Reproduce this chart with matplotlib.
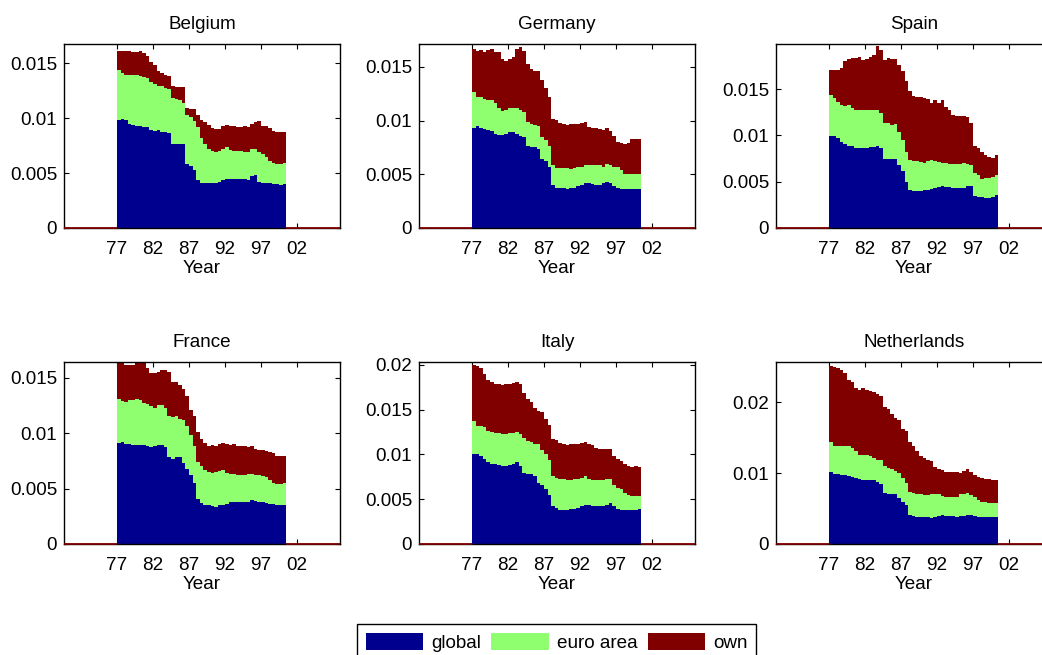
import numpy as np
import matplotlib
matplotlib.use("Agg")
import matplotlib.pyplot as plt
from matplotlib.patches import Patch
from matplotlib.ticker import FuncFormatter

plt.rcParams['font.family'] = ['Liberation Sans', 'DejaVu Sans']
plt.rcParams['font.size'] = 13.6

# half-year steps from 1977 to mid 2000, values in units of 1e-3
years = 1977 + 0.5 * np.arange(47)

countries = ["Belgium", "Germany", "Spain", "France", "Italy", "Netherlands"]

be_global = [9.8, 9.9, 9.8, 9.5, 9.4, 9.3, 9.3, 9.2, 9.2, 8.9,
             8.8, 8.9, 8.7, 8.7, 8.6, 7.6, 7.6, 7.6, 7.6, 5.8,
             5.6, 5.3, 4.4, 4.1, 4.1, 4.1, 4.1, 4.1, 4.2, 4.4,
             4.5, 4.5, 4.5, 4.5, 4.5, 4.45, 4.4, 4.75, 4.8, 4.2,
             4.1, 4.1, 4.1, 4.0, 4.0, 3.9, 4.0]
be_euro = [4.6, 4.2, 4.1, 4.4, 4.5, 4.6, 4.5, 4.5, 4.4, 4.4,
           4.3, 4.0, 4.2, 4.0, 4.0, 4.2, 4.1, 4.0, 3.8, 4.5,
           4.5, 4.4, 4.8, 4.1, 3.5, 3.1, 2.9, 2.8, 2.8, 2.8,
           2.9, 2.6, 2.5, 2.5, 2.5, 2.5, 2.5, 2.4, 2.4, 2.7,
           2.6, 2.4, 2.0, 1.9, 1.8, 1.9, 1.9]
be_own = [1.7, 2.0, 2.2, 2.2, 2.1, 2.1, 2.3, 2.2, 2.0, 1.8,
          1.7, 1.4, 1.2, 1.2, 1.2, 1.1, 1.1, 1.2, 1.4, 0.6,
          0.7, 1.1, 1.1, 1.6, 2.0, 2.2, 2.1, 2.1, 2.0, 2.1,
          2.0, 2.2, 2.3, 2.2, 2.2, 2.3, 2.3, 2.3, 2.4, 2.8,
          2.6, 2.8, 3.0, 2.9, 2.9, 2.9, 2.8]

de_global = [9.3, 9.5, 9.3, 9.2, 9.1, 9.0, 8.8, 8.7, 8.7, 8.8,
             8.9, 8.9, 8.8, 8.6, 8.5, 7.6, 7.5, 7.5, 7.4, 6.4,
             6.2, 5.7, 4.0, 3.7, 3.7, 3.7, 3.6, 3.7, 3.7, 3.9,
             4.0, 4.2, 4.2, 4.1, 4.0, 4.0, 4.2, 4.3, 4.2, 3.9,
             3.7, 3.6, 3.6, 3.6, 3.6, 3.6, 3.6]
de_euro = [3.4, 2.7, 2.9, 2.8, 2.8, 2.9, 2.8, 2.5, 2.2, 2.2,
           2.3, 2.3, 2.4, 2.4, 2.3, 2.3, 2.2, 2.1, 2.1, 2.1,
           2.0, 1.9, 1.9, 1.9, 1.9, 1.9, 2.0, 1.8, 1.9, 1.8,
           1.7, 1.7, 1.7, 1.8, 1.9, 1.9, 1.5, 1.7, 1.7, 1.8,
           2.0, 1.8, 1.4, 1.4, 1.4, 1.4, 1.4]
de_own = [4.0, 4.3, 4.4, 4.4, 4.7, 4.8, 4.8, 5.2, 4.8, 4.6,
          4.5, 4.7, 5.5, 5.9, 5.7, 5.4, 5.1, 5.0, 5.1, 5.3,
          4.8, 4.6, 4.3, 4.5, 4.2, 4.1, 4.0, 4.2, 4.1, 4.0,
          4.1, 4.0, 3.5, 3.4, 3.4, 3.3, 3.4, 3.3, 3.1, 2.9,
          2.3, 2.5, 2.8, 2.9, 3.3, 3.3, 3.3]

es_global = [9.9, 9.9, 9.7, 9.3, 9.1, 8.9, 8.8, 8.6, 8.6, 8.6,
             8.6, 8.7, 8.7, 8.8, 8.6, 7.5, 7.5, 7.4, 7.4, 6.8,
             6.1, 5.0, 4.1, 4.0, 4.0, 4.0, 4.1, 4.1, 4.2, 4.3,
             4.4, 4.5, 4.4, 4.4, 4.3, 4.3, 4.3, 4.3, 4.5, 4.5,
             3.4, 3.3, 3.3, 3.2, 3.2, 3.3, 3.6]
es_euro = [4.5, 4.1, 3.9, 4.0, 4.1, 4.4, 4.1, 4.1, 4.1, 4.1,
           4.1, 4.0, 4.0, 3.9, 3.8, 3.8, 3.8, 3.7, 3.8, 3.6,
           3.4, 3.2, 3.2, 3.2, 3.2, 3.1, 2.9, 3.1, 3.1, 2.9,
           2.7, 2.5, 2.6, 2.5, 2.6, 2.6, 2.6, 2.7, 2.4, 2.3,
           2.5, 2.4, 2.0, 2.2, 2.2, 2.2, 2.1]
es_own = [2.6, 3.0, 3.5, 4.0, 4.8, 4.9, 5.4, 5.6, 5.8, 5.4,
          5.5, 5.8, 6.0, 6.9, 6.8, 6.8, 7.0, 7.1, 7.0, 7.2,
          7.4, 7.7, 7.5, 7.0, 6.9, 7.0, 7.0, 6.7, 6.2, 6.6,
          6.4, 6.8, 6.1, 5.8, 5.3, 5.2, 5.2, 5.1, 5.1, 4.5,
          2.9, 2.9, 2.9, 2.5, 2.3, 2.1, 2.2]

fr_global = [9.1, 9.2, 9.0, 9.0, 8.9, 8.9, 8.9, 8.9, 8.8, 8.7,
             8.8, 8.9, 8.9, 8.7, 7.8, 7.7, 7.8, 7.8, 7.3, 6.8,
             6.2, 5.5, 4.1, 3.7, 3.5, 3.5, 3.4, 3.3, 3.5, 3.5,
             3.6, 3.8, 3.8, 3.8, 3.8, 3.8, 3.8, 4.0, 3.9, 3.8,
             3.8, 3.7, 3.6, 3.6, 3.5, 3.5, 3.5]
fr_euro = [4.0, 3.7, 3.8, 4.0, 4.1, 4.2, 4.1, 3.8, 3.8, 3.7,
           3.5, 3.6, 3.6, 3.6, 3.7, 3.7, 3.7, 3.5, 3.9, 3.8,
           3.6, 3.3, 3.3, 3.3, 3.2, 3.0, 3.0, 3.2, 3.1, 3.2,
           2.8, 2.5, 2.5, 2.4, 2.4, 2.4, 2.5, 2.3, 2.3, 2.4,
           2.3, 2.3, 2.2, 1.9, 1.9, 1.9, 2.0]
fr_own = [3.2, 3.4, 3.3, 3.1, 3.1, 3.2, 3.5, 3.7, 3.3, 3.0,
          3.1, 3.0, 3.2, 3.4, 4.0, 3.2, 3.1, 3.0, 2.8, 2.7,
          2.3, 2.7, 2.7, 2.5, 2.4, 2.3, 2.5, 2.3, 2.4, 2.4,
          2.6, 2.6, 2.7, 2.6, 2.6, 2.6, 2.4, 2.5, 2.4, 2.3,
          2.4, 2.4, 2.5, 2.7, 2.5, 2.5, 2.4]

it_global = [10.0, 10.0, 9.8, 9.5, 9.1, 8.9, 8.9, 8.8, 8.7, 8.7,
             8.8, 8.9, 9.1, 8.7, 7.9, 7.8, 7.8, 7.6, 6.8, 6.6,
             6.1, 5.5, 4.2, 4.0, 3.8, 3.8, 3.8, 3.9, 3.9, 4.0,
             4.2, 4.4, 4.4, 4.2, 4.2, 4.2, 4.2, 4.4, 4.6, 4.2,
             3.9, 3.8, 3.8, 3.8, 3.8, 3.8, 3.9]
it_euro = [3.7, 3.2, 3.4, 3.5, 3.5, 3.6, 3.5, 3.6, 3.6, 3.6,
           3.6, 3.5, 3.4, 3.6, 3.9, 3.7, 3.6, 3.6, 4.4, 3.9,
           3.9, 3.9, 3.4, 3.4, 3.4, 3.4, 3.3, 3.2, 3.3, 3.2,
           3.2, 3.2, 2.8, 2.9, 2.9, 2.9, 2.9, 2.8, 2.6, 2.4,
           2.4, 2.3, 1.9, 1.7, 1.6, 1.6, 1.5]
it_own = [6.3, 6.6, 6.4, 6.0, 5.7, 5.6, 5.5, 5.4, 5.4, 5.5,
          5.5, 5.6, 5.6, 5.5, 5.0, 4.7, 4.4, 4.0, 3.6, 4.2,
          3.9, 3.9, 4.1, 4.2, 4.1, 4.0, 3.9, 4.0, 3.9, 4.0,
          3.9, 3.8, 3.9, 3.9, 3.6, 3.5, 3.5, 3.4, 3.4, 3.2,
          3.2, 3.2, 3.2, 3.2, 3.2, 3.3, 3.2]

nl_global = [10.2, 9.9, 9.9, 9.8, 9.8, 9.6, 9.5, 9.3, 9.2, 9.1,
             9.1, 9.1, 9.0, 8.7, 8.5, 7.2, 7.1, 7.1, 7.0, 6.5,
             6.0, 5.5, 4.1, 3.9, 3.8, 3.8, 3.8, 3.8, 3.7, 3.8,
             4.0, 4.1, 4.0, 4.0, 4.0, 3.8, 3.9, 4.0, 4.1, 4.1,
             3.9, 3.8, 3.8, 3.8, 3.8, 3.8, 3.8]
nl_euro = [4.2, 3.9, 3.9, 4.1, 4.1, 4.2, 4.0, 3.8, 3.4, 3.5,
           3.4, 3.3, 3.1, 3.2, 3.4, 3.8, 3.6, 3.5, 3.3, 3.5,
           3.3, 3.1, 3.3, 3.3, 3.3, 3.3, 3.1, 3.1, 3.3, 3.3,
           3.0, 2.7, 2.7, 2.6, 2.6, 2.9, 3.1, 3.0, 3.1, 2.8,
           2.8, 2.4, 2.2, 2.1, 2.0, 2.0, 2.0]
nl_own = [10.7, 11.2, 11.0, 10.7, 10.3, 9.3, 9.4, 8.9, 9.1, 9.4,
          9.3, 9.2, 9.4, 9.3, 9.0, 8.4, 8.3, 7.7, 7.5, 7.5,
          7.0, 7.3, 7.0, 6.6, 6.0, 5.3, 5.3, 4.9, 4.7, 3.8,
          3.6, 3.7, 3.5, 3.6, 3.6, 3.4, 3.0, 3.3, 3.4, 3.3,
          3.1, 3.3, 3.3, 3.3, 3.4, 3.3, 3.2]

series = {
    "Belgium": (be_global, be_euro, be_own),
    "Germany": (de_global, de_euro, de_own),
    "Spain": (es_global, es_euro, es_own),
    "France": (fr_global, fr_euro, fr_own),
    "Italy": (it_global, it_euro, it_own),
    "Netherlands": (nl_global, nl_euro, nl_own),
}

y_top = [0.01673, 0.01714, 0.01986, 0.0164, 0.0203, 0.0257]
y_ticks = [[0, 0.005, 0.01, 0.015], [0, 0.005, 0.01, 0.015],
           [0, 0.005, 0.01, 0.015], [0, 0.005, 0.01, 0.015],
           [0, 0.005, 0.01, 0.015, 0.02], [0, 0.01, 0.02]]
x_ticks = [1977, 1982, 1987, 1992, 1997, 2002]
x_labels = ["77", "82", "87", "92", "97", "02"]
labels = ["global", "euro area", "own"]
colors = ["#00008f", "#8fff70", "#800000"]
x_min, x_max = 1969.64, 2007.97

W, H = 1042, 655
fig = plt.figure(figsize=(W / 100, H / 100), dpi=100)
lefts = [64, 419, 776]
tops = [44, 362]
heights = [184, 182]
aw = 276

x_edges = np.append(years, years[-1] + 0.5)

for k, name in enumerate(countries):
    r, c = divmod(k, 3)
    ax = fig.add_axes([lefts[c] / W, 1 - (tops[r] + heights[r]) / H, aw / W, heights[r] / H])
    base = np.zeros(len(years))
    for vals, col in zip(series[name], colors):
        v = np.array(vals) * 1e-3
        top = base + v
        ax.fill_between(x_edges, np.append(base, base[-1]), np.append(top, top[-1]),
                        step='post', color=col, linewidth=0, zorder=4)
        base = top
    # zero-valued 'own' edge outside the sample
    ax.hlines([0, 0], [x_min, x_edges[-1]], [x_edges[0], x_max], color=colors[2],
              lw=1.3, zorder=6, clip_on=False)
    ax.set_xlim(x_min, x_max)
    ax.set_ylim(0, y_top[k])
    ax.set_xticks(x_ticks)
    ax.set_xticklabels(x_labels)
    ax.set_yticks(y_ticks[k])
    ax.yaxis.set_major_formatter(FuncFormatter(lambda v, p: '%g' % v))
    ax.tick_params(direction='in', top=True, right=True, length=3.5, width=0.8)
    ax.tick_params(axis='x', pad=9)
    ax.tick_params(axis='y', pad=5)
    for s in ax.spines.values():
        s.set_linewidth(1.0)
        s.set_zorder(5)
    ax.set_title(name, pad=11, fontsize=13.6)
    ax.set_xlabel("Year", labelpad=2)

handles = [Patch(facecolor=col, edgecolor='none') for col in colors]
leg = fig.legend(handles, labels, loc='upper left', bbox_to_anchor=(357 / W, 1 - 624 / H),
                 ncol=3, frameon=True, fancybox=False, edgecolor='black', framealpha=1,
                 borderaxespad=0, handlelength=3.05, handleheight=1.05,
                 handletextpad=0.42, columnspacing=0.55, borderpad=0.45)
leg.get_frame().set_linewidth(1.0)

fig.savefig("out.png", dpi=100)
